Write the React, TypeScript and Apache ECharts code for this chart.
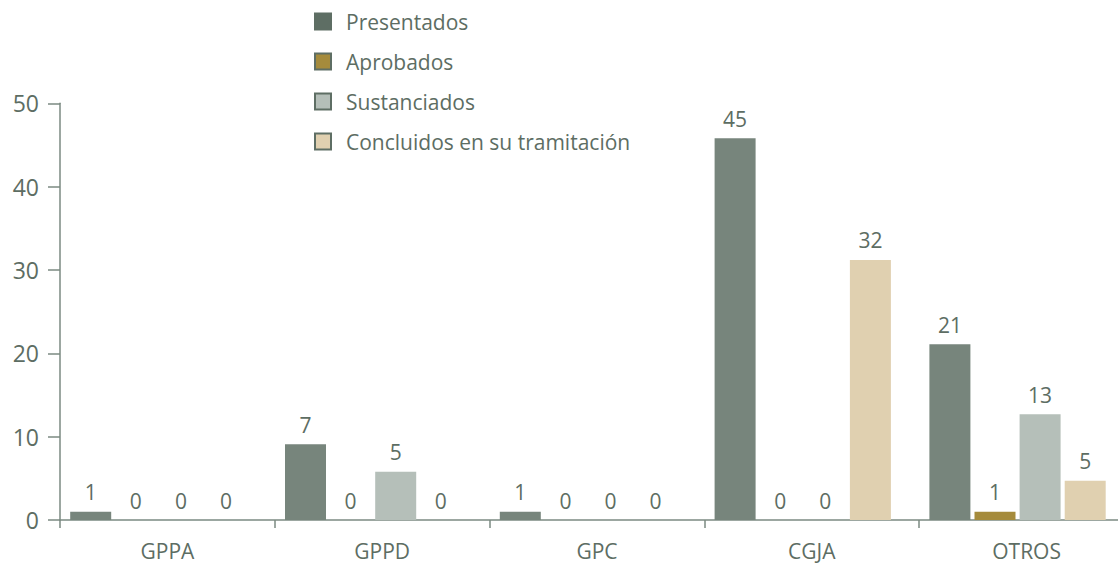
import React, { useEffect, useRef } from "react";
import * as echarts from "echarts";

const categories = ["GPPA", "GPPD", "GPC", "CGJA", "OTROS"];
const seriesNames = ["Presentados", "Aprobados", "Sustanciados", "Concluidos en su tramitación"];

// bar heights as drawn in the picture
const presentadosHeights = [1, 9.1, 1, 45.8, 21.1];
const aprobadosHeights = [0, 0, 0, 0, 1];
const sustanciadosHeights = [0, 5.8, 0, 0, 12.7];
const concluidosHeights = [0, 0, 0, 31.2, 4.7];

// value labels printed above the bars
const presentadosLabels = [1, 7, 1, 45, 21];
const aprobadosLabels = [0, 0, 0, 0, 1];
const sustanciadosLabels = [0, 5, 0, 0, 13];
const concluidosLabels = [0, 0, 0, 32, 5];

const yMin = 0;
const yMax = 50;
const yInterval = 10;

const barColors = ["#77857c", "#a58b3c", "#b5bfb9", "#e0d0b0"];
const legendFills = ["#5e6e64", "#a58b3c", "#b5bfb9", "#e0d0b0"];
const textColor = "#5d6d63";
const axisColor = "#7b8a82";
const FONT = "'Open Sans', 'Noto Sans', sans-serif";

export default function App() {
  const ref = useRef<HTMLDivElement>(null);
  useEffect(() => {
    if (!ref.current) return;
    const chart = echarts.init(ref.current, null, { renderer: "svg" });
    const heights = [presentadosHeights, aprobadosHeights, sustanciadosHeights, concluidosHeights];
    const labels = [presentadosLabels, aprobadosLabels, sustanciadosLabels, concluidosLabels];
    const series: any[] = seriesNames.map((name, i) => ({
      name,
      type: "bar",
      barWidth: 41,
      barGap: "10%",
      data: heights[i],
      itemStyle: { color: barColors[i] },
      label: {
        show: true,
        position: "top",
        distance: 9,
        color: textColor,
        fontFamily: FONT,
        fontSize: 21,
        formatter: (p: any) => String(labels[i][p.dataIndex]),
      },
    }));
    // empty spacer to keep the group of bars left of the category centre
    series.push({
      name: "spacer",
      type: "bar",
      barWidth: 14,
      data: categories.map(() => null),
      silent: true,
      itemStyle: { color: "transparent" },
    });
    chart.setOption({
      animation: false,
      backgroundColor: "#ffffff",
      textStyle: { fontFamily: FONT },
      legend: {
        orient: "vertical",
        left: 309,
        top: 6,
        itemWidth: 16,
        itemHeight: 16,
        itemGap: 19,
        icon: "rect",
        textStyle: {
          color: textColor,
          fontFamily: FONT,
          fontSize: 21,
          padding: [0, 0, 0, 10],
        },
        data: seriesNames.map((name, i) => ({
          name,
          itemStyle: { color: legendFills[i], borderColor: "#5e6e64", borderWidth: 2 },
        })),
      },
      grid: {
        left: 60,
        width: 1074,
        top: 103.33,
        height: 416.67,
        containLabel: false,
        outerBoundsMode: "none",
      },
      xAxis: {
        type: "category",
        data: categories,
        axisLine: { lineStyle: { color: axisColor, width: 1.5 } },
        axisTick: { show: true, length: 8, lineStyle: { color: axisColor, width: 1.5 } },
        axisLabel: { color: textColor, fontFamily: FONT, fontSize: 21, margin: 20 },
      },
      yAxis: {
        type: "value",
        min: yMin,
        max: yMax,
        interval: yInterval,
        splitLine: { show: false },
        axisLine: { show: true, lineStyle: { color: axisColor, width: 1.5 } },
        axisTick: { show: true, inside: false, length: 12, lineStyle: { color: axisColor, width: 1.5 } },
        axisLabel: { color: textColor, fontFamily: FONT, fontSize: 23, margin: 21 },
      },
      series,
    });
    return () => chart.dispose();
  }, []);
  return (
    <div
      ref={ref}
      style={{ position: "fixed", left: 0, top: 0, width: 1118, height: 566, background: "#fff" }}
    />
  );
}
